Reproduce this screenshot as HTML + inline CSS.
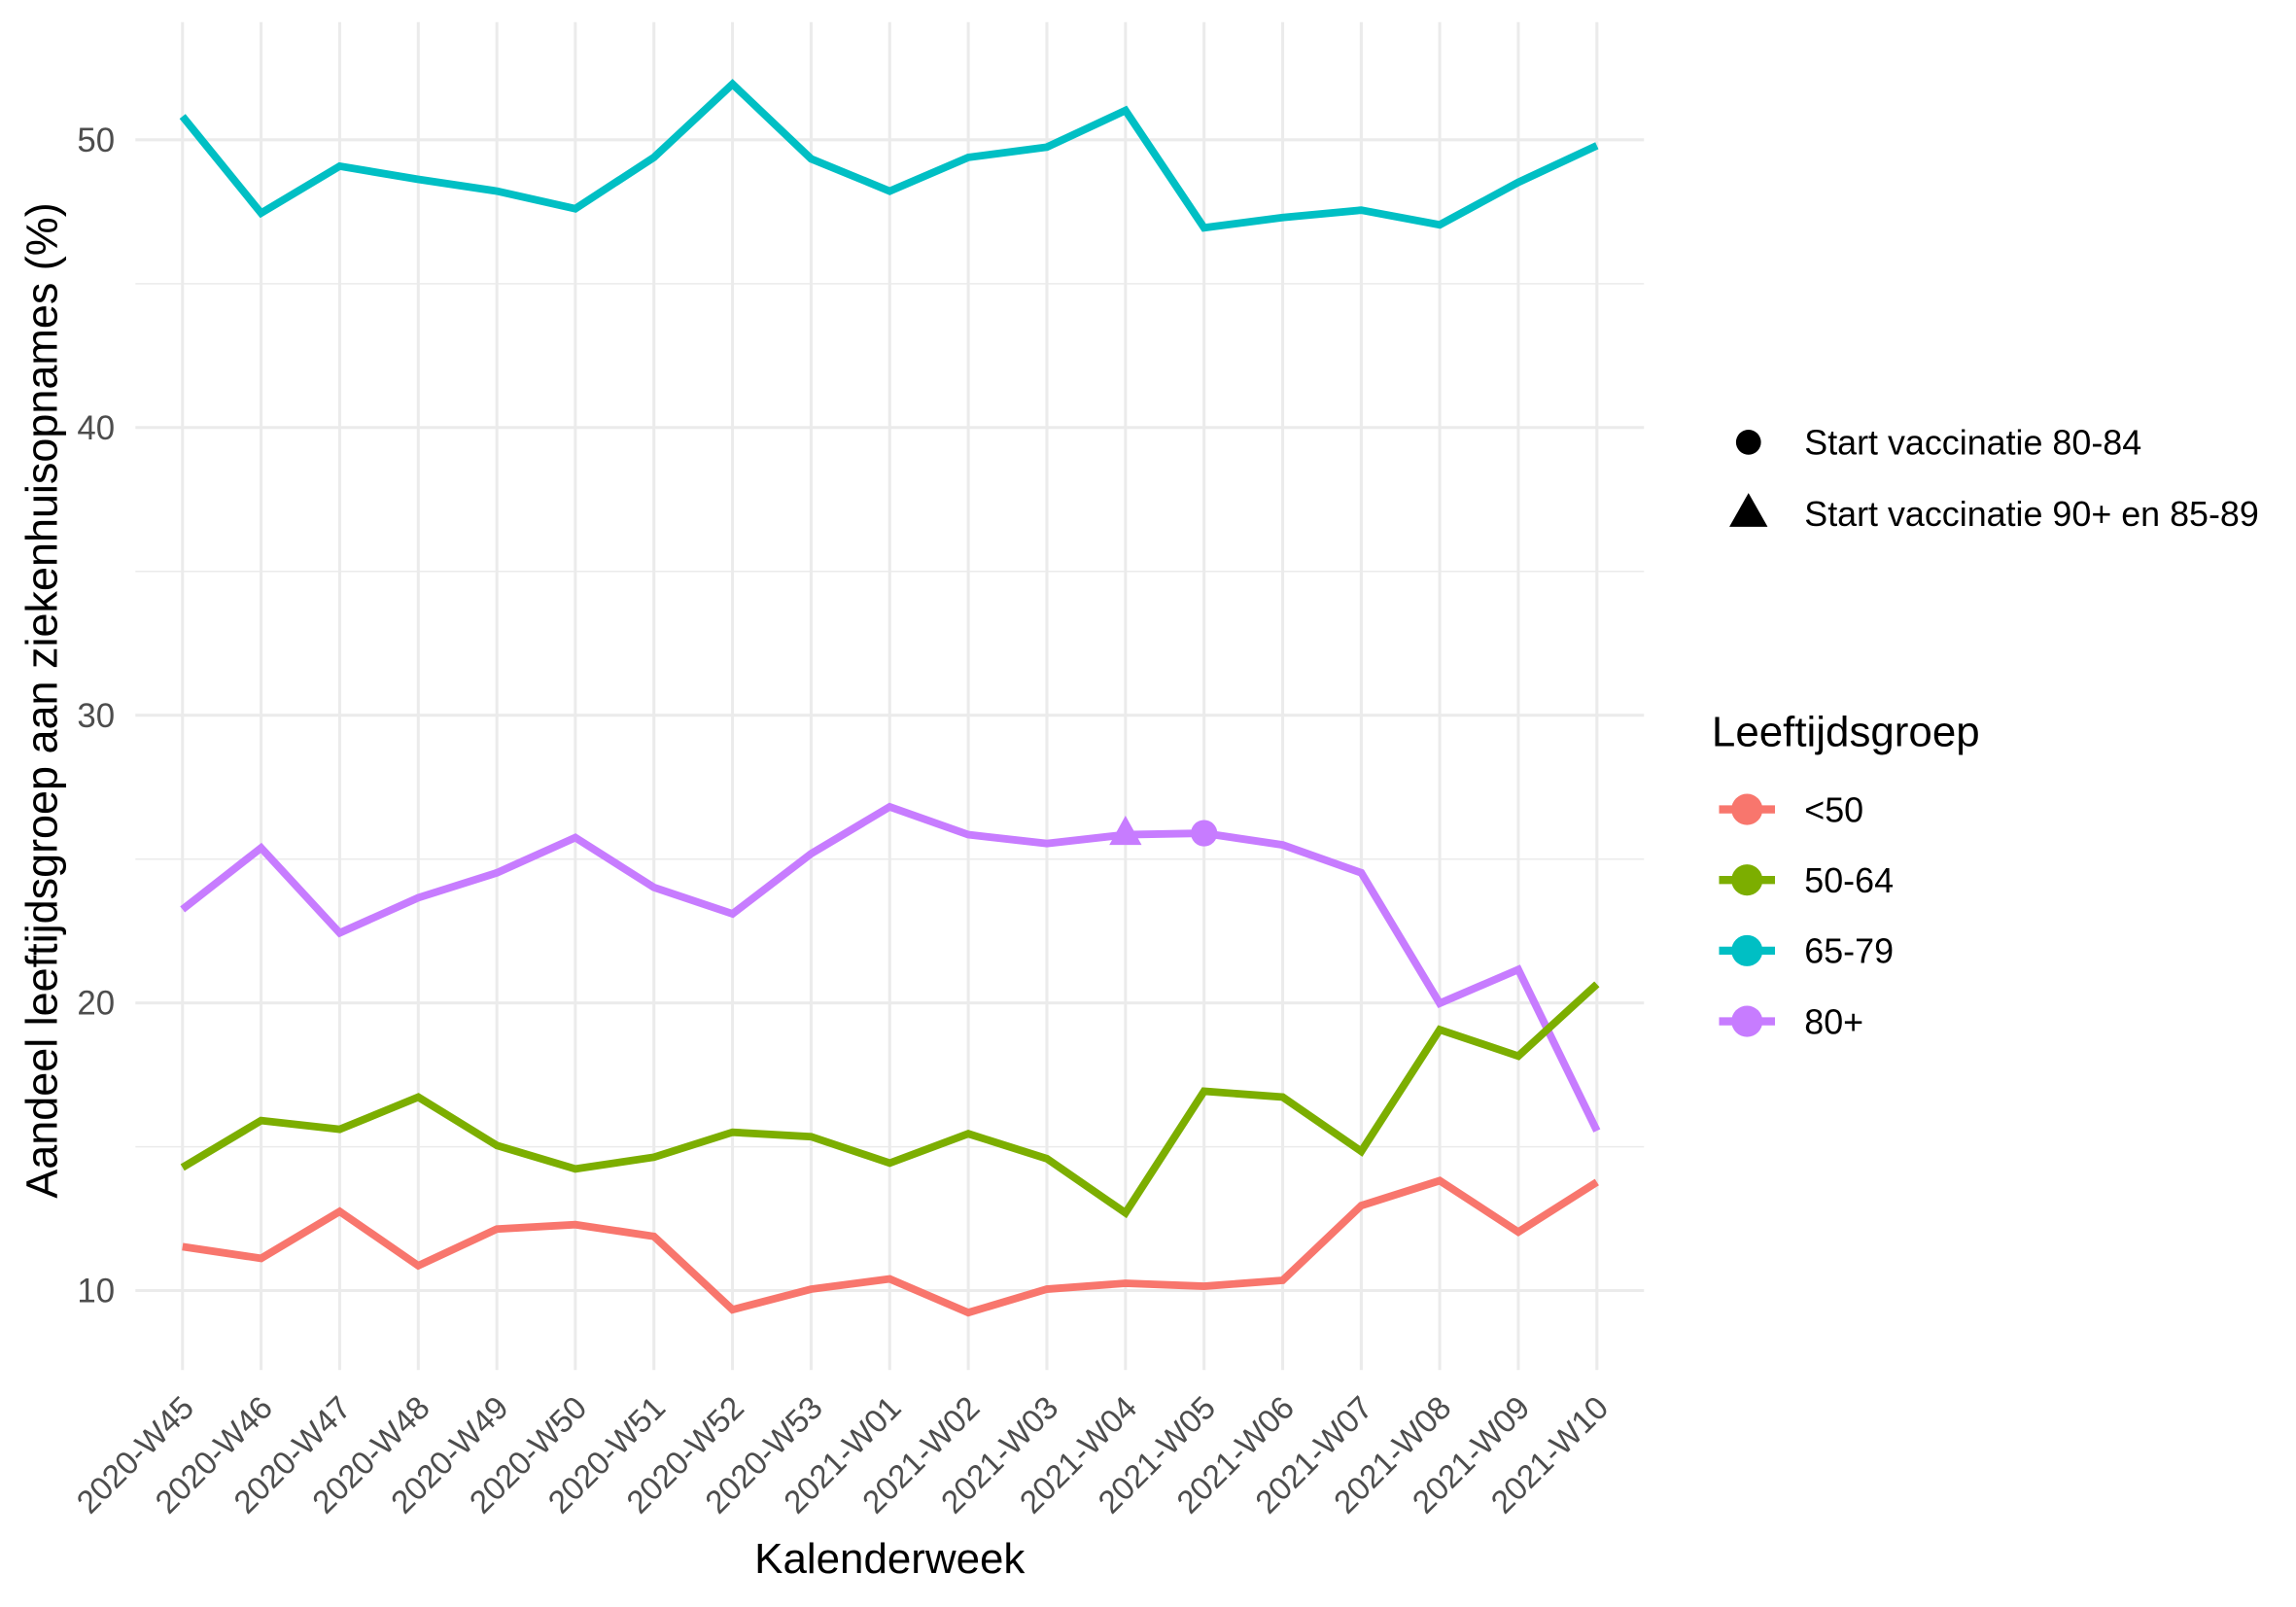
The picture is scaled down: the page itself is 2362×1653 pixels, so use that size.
<!DOCTYPE html>
<html><head><meta charset="utf-8"><style>
html,body{margin:0;padding:0;background:#fff;}
svg{display:block;}
text{font-family:"Liberation Sans",Arial,sans-serif;}
</style></head><body>
<svg width="2362" height="1653" viewBox="0 0 1560 1092" preserveAspectRatio="none" xmlns="http://www.w3.org/2000/svg">
<rect width="1560" height="1092" fill="#fff"/>
<g stroke="#ebebeb" stroke-width="1" fill="none">
<line x1="92" x2="1117" y1="779.3" y2="779.3"/>
<line x1="92" x2="1117" y1="583.8" y2="583.8"/>
<line x1="92" x2="1117" y1="388.3" y2="388.3"/>
<line x1="92" x2="1117" y1="192.8" y2="192.8"/>
</g>
<g stroke="#ebebeb" stroke-width="2" fill="none">
<line x1="92" x2="1117" y1="877" y2="877"/>
<line x1="92" x2="1117" y1="681.5" y2="681.5"/>
<line x1="92" x2="1117" y1="486" y2="486"/>
<line x1="92" x2="1117" y1="290.5" y2="290.5"/>
<line x1="92" x2="1117" y1="95" y2="95"/>
<line x1="124" x2="124" y1="15" y2="931"/>
<line x1="177.4" x2="177.4" y1="15" y2="931"/>
<line x1="230.8" x2="230.8" y1="15" y2="931"/>
<line x1="284.2" x2="284.2" y1="15" y2="931"/>
<line x1="337.6" x2="337.6" y1="15" y2="931"/>
<line x1="390.9" x2="390.9" y1="15" y2="931"/>
<line x1="444.3" x2="444.3" y1="15" y2="931"/>
<line x1="497.7" x2="497.7" y1="15" y2="931"/>
<line x1="551.1" x2="551.1" y1="15" y2="931"/>
<line x1="604.5" x2="604.5" y1="15" y2="931"/>
<line x1="657.9" x2="657.9" y1="15" y2="931"/>
<line x1="711.3" x2="711.3" y1="15" y2="931"/>
<line x1="764.7" x2="764.7" y1="15" y2="931"/>
<line x1="818.1" x2="818.1" y1="15" y2="931"/>
<line x1="871.5" x2="871.5" y1="15" y2="931"/>
<line x1="924.9" x2="924.9" y1="15" y2="931"/>
<line x1="978.2" x2="978.2" y1="15" y2="931"/>
<line x1="1031.6" x2="1031.6" y1="15" y2="931"/>
<line x1="1085" x2="1085" y1="15" y2="931"/>
</g>
<g transform="matrix(1 0 0 0.9962 0 0.35)" fill="none" stroke-width="5.2" stroke-linejoin="miter">
<polyline stroke="#00BFC4" points="124,79 177.4,145 230.8,113 284.2,122 337.6,130 390.9,142 444.3,107 497.7,57 551.1,108 604.5,130 657.9,107 711.3,100 764.7,75 818.1,155 871.5,148 924.9,143 978.2,153 1031.6,124 1085,99"/>
<polyline stroke="#C77CFF" points="124,620 177.4,578 230.8,636 284.2,612 337.6,595 390.9,571 444.3,605 497.7,623 551.1,582 604.5,550 657.9,569 711.3,575 764.7,569 818.1,568 871.5,576 924.9,595 978.2,684 1031.6,661 1085,771"/>
<polyline stroke="#7CAE00" points="124,796 177.4,764 230.8,770 284.2,748 337.6,781 390.9,797 444.3,789 497.7,772 551.1,775 604.5,793 657.9,773 711.3,790 764.7,827 818.1,744 871.5,748 924.9,785 978.2,702 1031.6,720 1085,671"/>
<polyline stroke="#F8766D" points="124,850 177.4,858 230.8,826 284.2,863 337.6,838 390.9,835 444.3,843 497.7,893 551.1,879 604.5,872 657.9,895 711.3,879 764.7,875 818.1,877 871.5,873 924.9,822 978.2,805 1031.6,840 1085,806"/>
<polygon fill="#C77CFF" stroke="none" points="764.7,556 753.7,576 775.7,576"/>
<circle fill="#C77CFF" cx="818.1" cy="568" r="9"/>
</g>
<g fill="#4d4d4d" font-size="23" text-anchor="end">
<text x="78" y="885">10</text>
<text x="78" y="689.5">20</text>
<text x="78" y="494">30</text>
<text x="78" y="298.5">40</text>
<text x="78" y="103">50</text>
</g>
<g fill="#4d4d4d" font-size="22" text-anchor="end">
<text transform="translate(133,958) rotate(-45)">2020-W45</text>
<text transform="translate(186.4,958) rotate(-45)">2020-W46</text>
<text transform="translate(239.8,958) rotate(-45)">2020-W47</text>
<text transform="translate(293.2,958) rotate(-45)">2020-W48</text>
<text transform="translate(346.6,958) rotate(-45)">2020-W49</text>
<text transform="translate(399.9,958) rotate(-45)">2020-W50</text>
<text transform="translate(453.3,958) rotate(-45)">2020-W51</text>
<text transform="translate(506.7,958) rotate(-45)">2020-W52</text>
<text transform="translate(560.1,958) rotate(-45)">2020-W53</text>
<text transform="translate(613.5,958) rotate(-45)">2021-W01</text>
<text transform="translate(666.9,958) rotate(-45)">2021-W02</text>
<text transform="translate(720.3,958) rotate(-45)">2021-W03</text>
<text transform="translate(773.7,958) rotate(-45)">2021-W04</text>
<text transform="translate(827.1,958) rotate(-45)">2021-W05</text>
<text transform="translate(880.5,958) rotate(-45)">2021-W06</text>
<text transform="translate(933.9,958) rotate(-45)">2021-W07</text>
<text transform="translate(987.2,958) rotate(-45)">2021-W08</text>
<text transform="translate(1040.6,958) rotate(-45)">2021-W09</text>
<text transform="translate(1094,958) rotate(-45)">2021-W10</text>
</g>
<text x="604.5" y="1069" font-size="29" text-anchor="middle" fill="#000">Kalenderweek</text>
<text transform="translate(38.5,476) rotate(-90)" font-size="29.7" text-anchor="middle" fill="#000">Aandeel leeftijdsgroep aan ziekenhuisopnames (%)</text>
<circle cx="1188" cy="300.5" r="8.5" fill="#000"/>
<polygon points="1188,335 1175,358 1201,358" fill="#000"/>
<g font-size="23.7" fill="#000">
<text x="1226" y="309">Start vaccinatie 80-84</text>
<text x="1226" y="357.5">Start vaccinatie 90+ en 85-89</text>
</g>
<text x="1163" y="507" font-size="29" fill="#000">Leeftijdsgroep</text>
<g stroke-width="5.5">
<line x1="1168" x2="1206" y1="550" y2="550" stroke="#F8766D"/>
<line x1="1168" x2="1206" y1="598" y2="598" stroke="#7CAE00"/>
<line x1="1168" x2="1206" y1="646" y2="646" stroke="#00BFC4"/>
<line x1="1168" x2="1206" y1="694" y2="694" stroke="#C77CFF"/>
</g>
<circle cx="1187" cy="550" r="10.6" fill="#F8766D"/>
<circle cx="1187" cy="598" r="10.6" fill="#7CAE00"/>
<circle cx="1187" cy="646" r="10.6" fill="#00BFC4"/>
<circle cx="1187" cy="694" r="10.6" fill="#C77CFF"/>
<g font-size="23.7" fill="#000">
<text x="1226" y="558.5">&lt;50</text>
<text x="1226" y="606.5">50-64</text>
<text x="1226" y="654.5">65-79</text>
<text x="1226" y="702.5">80+</text>
</g>
</svg>
</body></html>
